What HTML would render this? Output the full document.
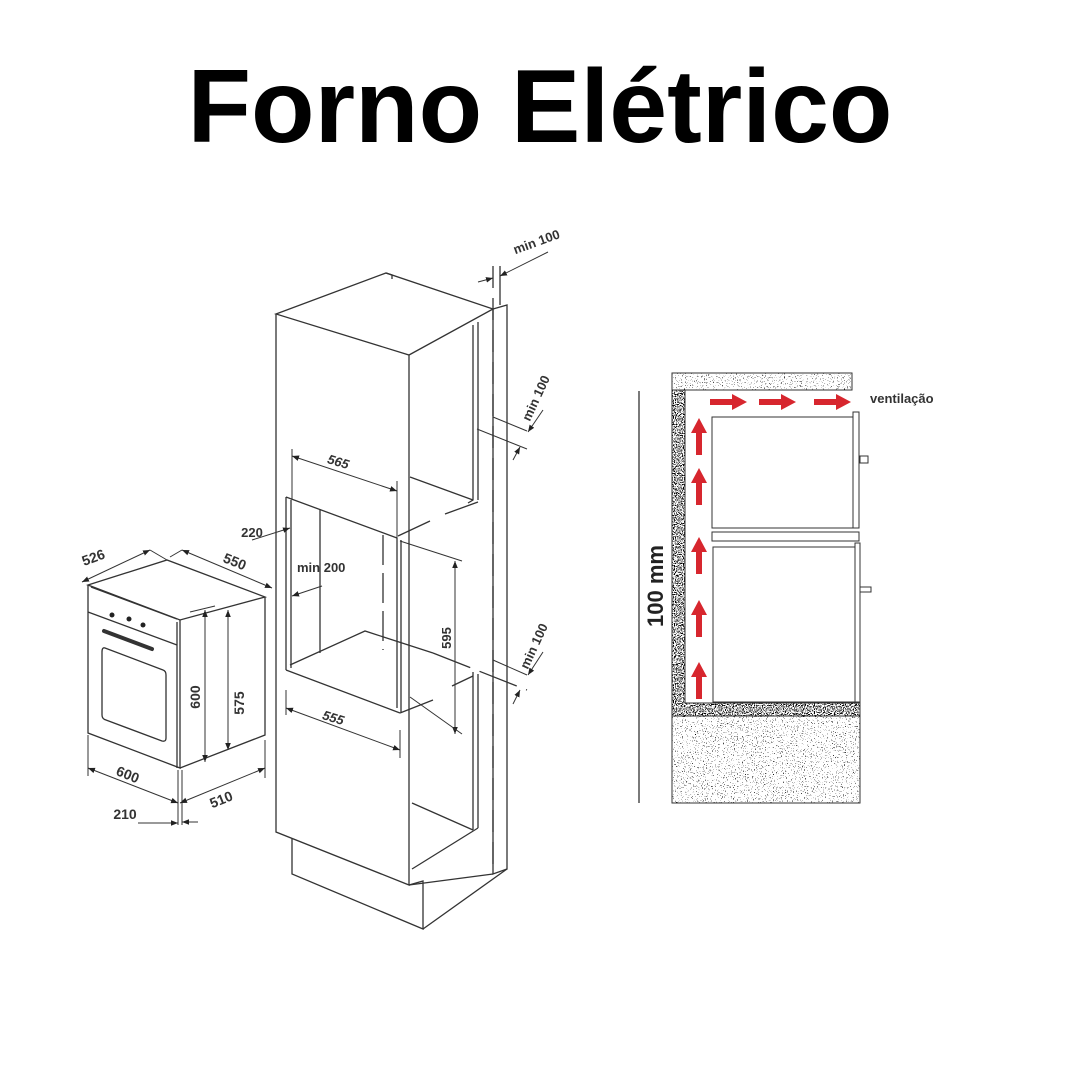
<!DOCTYPE html>
<html><head><meta charset="utf-8"><style>
html,body{margin:0;padding:0;background:#fff;}
svg{display:block;}
text{font-family:"Liberation Sans",sans-serif;}
</style></head><body>
<svg width="1080" height="1080" viewBox="0 0 1080 1080" xmlns="http://www.w3.org/2000/svg">
<defs>
<filter id="spk" x="0" y="0" width="100%" height="100%">
<feTurbulence type="fractalNoise" baseFrequency="0.9" numOctaves="1" seed="3" result="n"/>
<feColorMatrix in="n" type="matrix" values="0 0 0 0 0  0 0 0 0 0  0 0 0 0 0  0 0 0 -22 7.6" result="d"/>
<feComposite in="d" in2="SourceGraphic" operator="in"/>
</filter>
<filter id="spk2" x="0" y="0" width="100%" height="100%">
<feTurbulence type="fractalNoise" baseFrequency="0.9" numOctaves="1" seed="7" result="n"/>
<feColorMatrix in="n" type="matrix" values="0 0 0 0 0  0 0 0 0 0  0 0 0 0 0  0 0 0 -12 6" result="d"/>
<feComposite in="d" in2="SourceGraphic" operator="in"/>
</filter>
<marker id="ar" viewBox="0 0 10 10" refX="10" refY="5" markerWidth="7" markerHeight="7" orient="auto-start-reverse"><path d="M0,1 L10,5 L0,9 z" fill="#222"/></marker>
</defs>

<text x="540" y="142" text-anchor="middle" font-size="104" font-weight="bold" fill="#000">Forno Elétrico</text>

<!-- OVEN -->
<g fill="none" stroke="#333" stroke-width="1.3">
<polygon points="88,585 167,560 265,597 180,620"/>
<polyline points="88,585 88,733 180,768 180,620"/>
<polyline points="180,768 265,735 265,597"/>
<line x1="88" y1="612" x2="177" y2="645"/>
<line x1="91" y1="587" x2="177" y2="619"/>
<line x1="177" y1="622" x2="177" y2="768"/>
<path d="M104,631 L152,649" stroke-width="4" stroke-linecap="round"/>
<path d="M105,648 L163,670 Q166,671 166,675 L166,738 Q166,742 162,741 L106,720 Q102,719 102,715 L102,652 Q102,647 105,648 z"/>
</g>
<g fill="#222"><circle cx="112" cy="615" r="2.5"/><circle cx="129" cy="619" r="2.5"/><circle cx="143" cy="625" r="2.5"/></g>
<g fill="none" stroke="#333" stroke-width="1">
<line x1="82" y1="582" x2="150" y2="550" marker-start="url(#ar)" marker-end="url(#ar)"/>
<line x1="150" y1="550" x2="167" y2="560"/>
<line x1="182" y1="550" x2="272" y2="588" marker-start="url(#ar)" marker-end="url(#ar)"/>
<line x1="182" y1="550" x2="170" y2="557"/>
<line x1="205" y1="610" x2="205" y2="762" marker-start="url(#ar)" marker-end="url(#ar)"/>
<line x1="228" y1="610" x2="228" y2="750" marker-start="url(#ar)" marker-end="url(#ar)"/>
<line x1="190" y1="612" x2="215" y2="606"/>
<line x1="88" y1="735" x2="88" y2="776"/>
<line x1="178" y1="770" x2="178" y2="825"/>
<line x1="182" y1="770" x2="182" y2="825"/>
<line x1="265" y1="740" x2="265" y2="778"/>
<line x1="88" y1="768" x2="178" y2="803" marker-start="url(#ar)" marker-end="url(#ar)"/>
<line x1="180" y1="803" x2="265" y2="768" marker-start="url(#ar)" marker-end="url(#ar)"/>
<line x1="138" y1="823" x2="178" y2="823" marker-end="url(#ar)"/>
<line x1="198" y1="822" x2="182" y2="822" marker-end="url(#ar)"/>
</g>
<g font-size="14" font-weight="bold" fill="#333">
<text x="95" y="562" transform="rotate(-20 95 562)" text-anchor="middle">526</text>
<text x="233" y="566" transform="rotate(22 233 566)" text-anchor="middle">550</text>
<text x="200" y="697" transform="rotate(-90 200 697)" text-anchor="middle">600</text>
<text x="244" y="703" transform="rotate(-90 244 703)" text-anchor="middle">575</text>
<text x="126" y="779" transform="rotate(22 126 779)" text-anchor="middle">600</text>
<text x="223" y="804" transform="rotate(-22 223 804)" text-anchor="middle">510</text>
<text x="125" y="819" text-anchor="middle">210</text>
</g>

<!-- CABINET -->
<g fill="none" stroke="#333" stroke-width="1.3">
<polygon points="276,314 386,273 493,309 409,355"/>
<polyline points="386,273 392,275 392,279"/>
<polyline points="276,314 276,832 409,885 409,355"/>
<polyline points="292,838 292,874 423,929 423,881 409,885"/>
<polyline points="423,929 507,869"/>
<polygon points="493,309 507,305 507,869 493,874"/>
<polyline points="409,885 493,874"/>
<polyline points="410,477 473,500"/>
<polyline points="473,325 473,500 468,503"/>
<line x1="478" y1="322" x2="478" y2="500"/>
<polyline points="445,514 478,502"/>
<polyline points="398,536 430,521"/>
<line x1="286" y1="497" x2="286" y2="670"/>
<line x1="291" y1="500" x2="291" y2="668"/>
<line x1="286" y1="497" x2="397" y2="538"/>
<line x1="320" y1="509" x2="320" y2="653"/>
<line x1="383" y1="535" x2="383" y2="650" stroke-dasharray="30 8"/>
<polyline points="290,665 365,631 433,653"/>
<line x1="286" y1="670" x2="400" y2="713"/>
<line x1="397" y1="538" x2="397" y2="708"/>
<line x1="401" y1="540" x2="401" y2="712"/>
<line x1="400" y1="713" x2="433" y2="700"/>
<line x1="433" y1="653" x2="527" y2="690" stroke-dasharray="40 10"/>
<line x1="473" y1="672" x2="473" y2="830"/>
<line x1="478" y1="674" x2="478" y2="828"/>
<line x1="452" y1="686" x2="473" y2="676"/>
<line x1="412" y1="803" x2="473" y2="830"/>
<line x1="412" y1="869" x2="478" y2="828"/>
<line x1="493" y1="266" x2="493" y2="870" stroke-dasharray="22 10"/>
<line x1="500" y1="266" x2="500" y2="305"/>
</g>
<g fill="none" stroke="#333" stroke-width="1">
<line x1="292" y1="449" x2="292" y2="500"/>
<line x1="397" y1="481" x2="397" y2="540"/>
<line x1="292" y1="456" x2="397" y2="491" marker-start="url(#ar)" marker-end="url(#ar)"/>
<line x1="252" y1="540" x2="290" y2="528" marker-end="url(#ar)"/>
<line x1="292" y1="596" x2="322" y2="586" marker-start="url(#ar)"/>
<line x1="400" y1="541" x2="462" y2="561"/>
<line x1="455" y1="561" x2="455" y2="734" marker-start="url(#ar)" marker-end="url(#ar)"/>
<line x1="410" y1="697" x2="462" y2="734"/>
<line x1="286" y1="690" x2="286" y2="715"/>
<line x1="400" y1="730" x2="400" y2="758"/>
<line x1="286" y1="708" x2="400" y2="750" marker-start="url(#ar)" marker-end="url(#ar)"/>
<line x1="478" y1="282" x2="493" y2="278" marker-end="url(#ar)"/>
<line x1="548" y1="252" x2="500" y2="276" marker-end="url(#ar)"/>
<line x1="477" y1="429" x2="527" y2="449"/>
<line x1="493" y1="417" x2="527" y2="431"/>
<line x1="513" y1="460" x2="520" y2="447" marker-end="url(#ar)"/>
<line x1="543" y1="410" x2="528" y2="432" marker-end="url(#ar)"/>
<line x1="493" y1="660" x2="527" y2="675"/>
<line x1="513" y1="704" x2="520" y2="690" marker-end="url(#ar)"/>
<line x1="543" y1="652" x2="528" y2="675" marker-end="url(#ar)"/>
</g>
<g font-size="13" font-weight="bold" fill="#333">
<text x="337" y="466" transform="rotate(17 337 466)" text-anchor="middle" font-style="italic">565</text>
<text x="252" y="537" text-anchor="middle">220</text>
<text x="297" y="572">min 200</text>
<text x="451" y="638" transform="rotate(-90 451 638)" text-anchor="middle">595</text>
<text x="332" y="722" transform="rotate(17 332 722)" text-anchor="middle" font-style="italic">555</text>
<text x="538" y="246" transform="rotate(-20 538 246)" text-anchor="middle">min 100</text>
<text x="540" y="400" transform="rotate(-65 540 400)" text-anchor="middle">min 100</text>
<text x="538" y="648" transform="rotate(-65 538 648)" text-anchor="middle">min 100</text>
</g>

<!-- VENTILATION DIAGRAM -->
<line x1="639" y1="391" x2="639" y2="803" stroke="#333" stroke-width="1.3"/>
<text x="663" y="586" transform="rotate(-90 663 586)" text-anchor="middle" font-size="22" font-weight="bold" fill="#222">100 mm</text>
<g filter="url(#spk)">
<rect x="672" y="373" width="180" height="17" fill="#000"/>
<rect x="672" y="716" width="188" height="87" fill="#000"/>
</g>
<g filter="url(#spk2)">
<rect x="672" y="390" width="13" height="326" fill="#000"/>
<rect x="685" y="703" width="175" height="13" fill="#000"/>
</g>
<g fill="none" stroke="#333" stroke-width="1">
<rect x="672" y="373" width="180" height="17"/>
<rect x="672" y="716" width="188" height="87"/>
<polyline points="672,390 672,716 860,716 860,703 685,703 685,390"/>
<rect x="712" y="417" width="141" height="111"/>
<rect x="853" y="412" width="6" height="116"/>
<rect x="712" y="532" width="147" height="9"/>
<rect x="713" y="547" width="142" height="155"/>
<rect x="855" y="543" width="5" height="159"/>
<rect x="860" y="456" width="8" height="7"/>
<rect x="860" y="587" width="11" height="5"/>
</g>
<g fill="#d7262e">
<g id="up"><polygon points="699,418 707,433 702,433 702,455 696,455 696,433 691,433"/></g>
<use href="#up" transform="translate(0,50)"/>
<use href="#up" transform="translate(0,119)"/>
<use href="#up" transform="translate(0,182)"/>
<use href="#up" transform="translate(0,244)"/>
<g id="rt"><polygon points="747,402 732,394 732,399 710,399 710,405 732,405 732,410"/></g>
<use href="#rt" transform="translate(49,0)"/>
<use href="#rt" transform="translate(104,0)"/>
</g>
<text x="870" y="403" font-size="13" font-weight="bold" fill="#333">ventilação</text>
</svg>
</body></html>
